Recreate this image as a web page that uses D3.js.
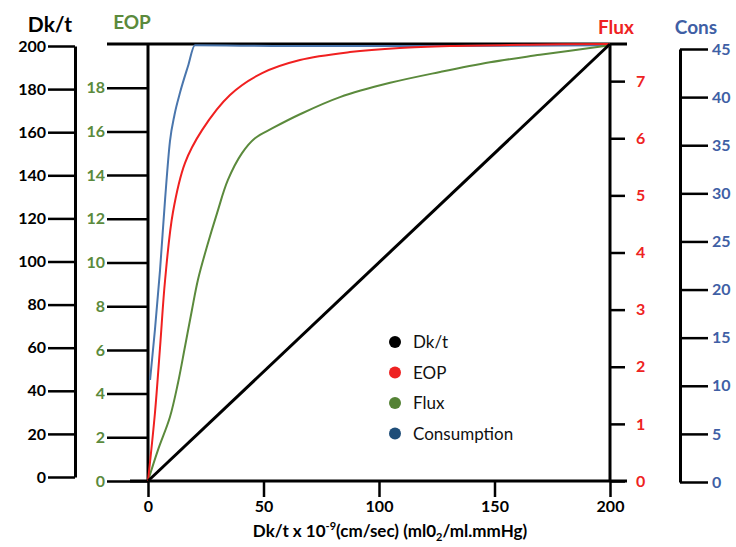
<!DOCTYPE html>
<html>
<head>
<meta charset="utf-8">
<script src="https://cdn.jsdelivr.net/npm/d3@7"></script>
<style>
  body { margin: 0; background: #fff; }
  svg text { font-family: Lato, "Open Sans", sans-serif; }
</style>
</head>
<body>
<div id="main"></div>
<script>
// values
var xTicks = [0, 50, 100, 150, 200];
var dkTicks = [0, 20, 40, 60, 80, 100, 120, 140, 160, 180, 200];
var eopTicks = [0, 2, 4, 6, 8, 10, 12, 14, 16, 18];
var fluxTicks = [0, 1, 2, 3, 4, 5, 6, 7];
var consTicks = [0, 5, 10, 15, 20, 25, 30, 35, 40, 45];

var dkLine = [[0, 0], [200, 200]];
var eopCurve = [[0, 0], [3.0, 3.1], [5.2, 6.1], [7.4, 9.2], [10.8, 12.3], [16.0, 14.55], [23.4, 16.06],
    [35.5, 17.67], [49.4, 18.67], [65.8, 19.27], [87.4, 19.63], [109, 19.82], [130.7, 19.91], [165, 19.97], [200, 20]];
var fluxCurve = [[0, 0], [4.3, 0.54], [9.5, 1.12], [13.0, 1.72], [16.0, 2.35], [19.0, 2.99], [21.6, 3.52],
    [25.5, 4.10], [29.9, 4.69], [34.6, 5.27], [40.7, 5.74], [46.3, 6.0], [54.1, 6.18], [65.8, 6.42],
    [83.1, 6.72], [104.8, 6.97], [126.4, 7.16], [148, 7.33], [169.7, 7.46], [200, 7.63]];
var consCurve = [[0.9, 10.6], [3.0, 15.8], [5.2, 22.0], [7.4, 29.4], [9.5, 35.4], [11.5, 38.2], [13.9, 40.5],
    [17.3, 43.2], [20.3, 45.4], [60, 45.3], [120, 45.3], [200, 45.4]];

var legendNames = ["Dk/t", "EOP", "Flux", "Consumption"];
var legendColors = ["#000000", "#ee2222", "#548235", "#1f4e79"];

var width = 736, height = 547;
var green = "#5b8a3c", red = "#ee2222", blue = "#3f5fa5";

var svg = d3.select("#main").append("svg")
    .attr("width", width)
    .attr("height", height);

var x = d3.scaleLinear().domain([0, 200]).range([148, 610]);
var yPlot = d3.scaleLinear().domain([0, 200]).range([481, 44]);
var yDk = d3.scaleLinear().domain([0, 200]).range([477, 46]);
var yEop = d3.scaleLinear().domain([0, 20]).range([481, 44]);
var yFlux = d3.scaleLinear().domain([0, 7.65]).range([481, 44]);
var yCons = d3.scaleLinear().domain([0, 45]).range([482, 49]);

function styleAxis(g, color, size) {
    g.select(".domain").attr("stroke", "#000").attr("stroke-width", 3);
    g.selectAll(".tick line").attr("stroke", "#000").attr("stroke-width", 2.5);
    g.selectAll(".tick text")
        .attr("fill", color)
        .style("font-size", size + "px")
        .style("font-weight", "bold");
}

// Dk/t axis (far left)
var gDk = svg.append("g")
    .attr("transform", "translate(75,0)")
    .call(d3.axisLeft(yDk).tickValues(dkTicks).tickSize(27).tickSizeOuter(0).tickPadding(2));
styleAxis(gDk, "#000", 16);

// EOP axis on the plot's left edge
var gEop = svg.append("g")
    .attr("transform", "translate(148,0)")
    .call(d3.axisLeft(yEop).tickValues(eopTicks).tickSize(41).tickSizeOuter(0).tickPadding(2));
styleAxis(gEop, green, 16);
gEop.select(".domain").remove();

// Flux axis on the plot's right edge
var gFlux = svg.append("g")
    .attr("transform", "translate(610,0)")
    .call(d3.axisRight(yFlux).tickValues(fluxTicks).tickSize(15).tickSizeOuter(0).tickPadding(11));
styleAxis(gFlux, red, 16);
gFlux.select(".domain").remove();

// Cons axis (far right)
var gCons = svg.append("g")
    .attr("transform", "translate(680,0)")
    .call(d3.axisRight(yCons).tickValues(consTicks).tickSize(28).tickSizeOuter(0).tickPadding(4));
styleAxis(gCons, blue, 16);

// bottom axis
var gX = svg.append("g")
    .attr("transform", "translate(0,481)")
    .call(d3.axisBottom(x).tickValues(xTicks).tickSize(16).tickSizeOuter(0).tickPadding(4));
styleAxis(gX, "#000", 16);
gX.select(".domain").remove();

// frame lines of the plot
svg.append("line").attr("x1", 130).attr("x2", 627).attr("y1", 481).attr("y2", 481)
    .attr("stroke", "#000").attr("stroke-width", 3);
svg.append("line").attr("x1", 107).attr("x2", 627).attr("y1", 44).attr("y2", 44)
    .attr("stroke", "#000").attr("stroke-width", 3);
svg.append("line").attr("x1", 148).attr("x2", 148).attr("y1", 44).attr("y2", 481)
    .attr("stroke", "#000").attr("stroke-width", 3);
svg.append("line").attr("x1", 610).attr("x2", 610).attr("y1", 44).attr("y2", 481)
    .attr("stroke", "#000").attr("stroke-width", 3);

// curves
var lineOf = function(ys) {
    return d3.line().x(function(d) { return x(d[0]); }).y(function(d) { return ys(d[1]); });
};
var smooth = function(ys, c) {
    return d3.line().curve(c || d3.curveCatmullRom.alpha(0.5))
        .x(function(d) { return x(d[0]); }).y(function(d) { return ys(d[1]); });
};

svg.append("path").datum(consCurve).attr("d", smooth(yCons, d3.curveMonotoneX))
    .attr("fill", "none").attr("stroke", "#4a76ad").attr("stroke-width", 2);
svg.append("path").datum(fluxCurve).attr("d", smooth(yFlux))
    .attr("fill", "none").attr("stroke", "#5b8a3c").attr("stroke-width", 2);
svg.append("path").datum(eopCurve).attr("d", smooth(yEop))
    .attr("fill", "none").attr("stroke", "#f02020").attr("stroke-width", 2);
svg.append("path").datum(dkLine).attr("d", lineOf(yPlot))
    .attr("fill", "none").attr("stroke", "#000").attr("stroke-width", 3);

// axis titles
var titles = [
    {t: "Dk/t", x: 50, y: 32, c: "#000", s: 21},
    {t: "EOP", x: 132, y: 29, c: green, s: 19},
    {t: "Flux", x: 616, y: 34, c: red, s: 19},
    {t: "Cons", x: 696, y: 34, c: blue, s: 19}
];
svg.selectAll(".title")
    .data(titles)
    .enter().append("text")
    .attr("class", "title")
    .attr("x", function(d) { return d.x; })
    .attr("y", function(d) { return d.y; })
    .attr("text-anchor", "middle")
    .attr("fill", function(d) { return d.c; })
    .style("font-size", function(d) { return d.s + "px"; })
    .style("font-weight", "bold")
    .text(function(d) { return d.t; });

// x axis title
var xt = svg.append("text")
    .attr("x", 390).attr("y", 537)
    .attr("text-anchor", "middle")
    .style("font-size", "17px")
    .style("font-weight", "bold")
    .attr("fill", "#000");
xt.append("tspan").text("Dk/t x 10");
xt.append("tspan").attr("dy", -7).style("font-size", "11px").text("-9");
xt.append("tspan").attr("dy", 7).text("(cm/sec) (ml0");
xt.append("tspan").attr("dy", 4).style("font-size", "11px").text("2");
xt.append("tspan").attr("dy", -4).text("/ml.mmHg)");

// legend
var legend = svg.selectAll(".legend")
    .data(legendNames)
    .enter().append("g")
    .attr("class", "legend")
    .attr("transform", function(d, i) { return "translate(395," + (342 + i * 30.5) + ")"; });
legend.append("circle")
    .attr("r", 6)
    .attr("fill", function(d, i) { return legendColors[i]; });
legend.append("text")
    .attr("x", 18).attr("y", 6)
    .style("font-size", "17px")
    .attr("fill", "#111")
    .text(function(d) { return d; });
</script>
</body>
</html>
